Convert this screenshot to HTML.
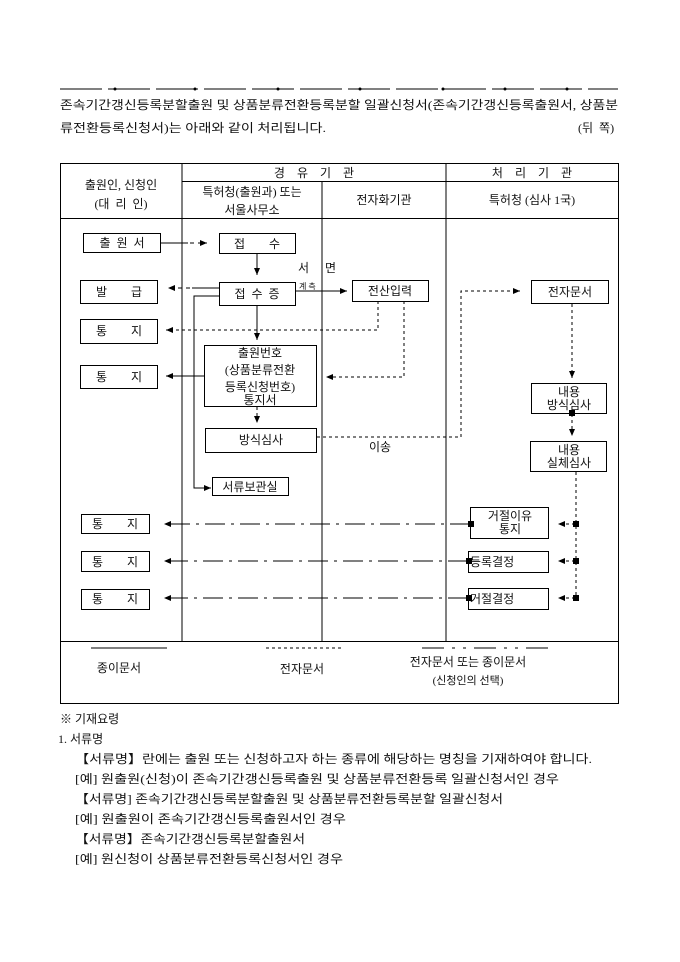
<!DOCTYPE html>
<html><head><meta charset="utf-8"><style>
html,body{margin:0;padding:0;background:#fff;}
svg{display:block;}
text{font-family:"Liberation Serif","Noto Sans CJK KR",sans-serif;font-size:12px;fill:#111;white-space:pre;}
.s{font-size:11px;}
</style></head><body>
<svg width="680" height="962" viewBox="0 0 680 962" xmlns="http://www.w3.org/2000/svg" xml:space="preserve">
<defs>
<marker id="a" markerWidth="8" markerHeight="8" refX="7" refY="4" orient="auto" markerUnits="userSpaceOnUse"><path d="M0,1 L7,4 L0,7 z" fill="#000"/></marker>
</defs>
<line x1="60" y1="89" x2="618" y2="89" stroke="#000" stroke-width="1" stroke-dasharray="42,6"/>
<g fill="#000"><circle cx="115" cy="89" r="1.5"/><circle cx="195" cy="89" r="1.5"/><circle cx="278" cy="89" r="1.5"/><circle cx="360" cy="89" r="1.5"/><circle cx="443" cy="89" r="1.5"/><circle cx="505" cy="89" r="1.5"/><circle cx="567" cy="89" r="1.5"/></g>
<text x="60" y="109" textLength="558" lengthAdjust="spacingAndGlyphs">존속기간갱신등록분할출원 및 상품분류전환등록분할 일괄신청서(존속기간갱신등록출원서, 상품분</text>
<text x="60" y="132" textLength="266" lengthAdjust="spacingAndGlyphs">류전환등록신청서)는 아래와 같이 처리됩니다.</text>
<text x="578" y="132">(뒤  쪽)</text>

<g stroke="#000" fill="none" stroke-width="1">
<rect x="60.5" y="163.5" width="558" height="540"/>
<line x1="182" y1="163" x2="182" y2="641"/>
<line x1="322" y1="181" x2="322" y2="641"/>
<line x1="446" y1="163" x2="446" y2="641"/>
<line x1="182" y1="181.5" x2="618" y2="181.5"/>
<line x1="60" y1="218.5" x2="618" y2="218.5"/>
<line x1="60" y1="641.5" x2="618" y2="641.5"/>
</g>
<text x="121" y="189" text-anchor="middle">출원인, 신청인</text>
<text x="121" y="208" text-anchor="middle">(대  리  인)</text>
<text x="314" y="177" text-anchor="middle">경    유    기    관</text>
<text x="532" y="177" text-anchor="middle">처    리    기    관</text>
<text x="252" y="196" text-anchor="middle">특허청(출원과) 또는</text>
<text x="252" y="214" text-anchor="middle">서울사무소</text>
<text x="384" y="204" text-anchor="middle">전자화기관</text>
<text x="532" y="204" text-anchor="middle">특허청 (심사 1국)</text>

<g stroke="#000" fill="#fff" stroke-width="1">
<rect x="83.5" y="233.5" width="77" height="19"/>
<rect x="219.5" y="233.5" width="76" height="20"/>
<rect x="80.5" y="280.5" width="77" height="23"/>
<rect x="219.5" y="282.5" width="76" height="23"/>
<rect x="352.5" y="280.5" width="76" height="21"/>
<rect x="531.5" y="280.5" width="77" height="23"/>
<rect x="80.5" y="319.5" width="77" height="24"/>
<rect x="204.5" y="345.5" width="112" height="61"/>
<rect x="80.5" y="365.5" width="77" height="23"/>
<rect x="205.5" y="428.5" width="111" height="24"/>
<rect x="531.5" y="383.5" width="75" height="30"/>
<rect x="530.5" y="441.5" width="76" height="30"/>
<rect x="212.5" y="477.5" width="76" height="18"/>
<rect x="81.5" y="514.5" width="68" height="19"/>
<rect x="81.5" y="551.5" width="68" height="20"/>
<rect x="81.5" y="589.5" width="68" height="20"/>
<rect x="470.5" y="507.5" width="78" height="31"/>
<rect x="468.5" y="551.5" width="80" height="21"/>
<rect x="468.5" y="588.5" width="80" height="21"/>
</g>
<text x="122" y="247" text-anchor="middle">출  원  서</text>
<text x="257" y="248" text-anchor="middle">접        수</text>
<text x="119" y="296" text-anchor="middle">발        급</text>
<text x="257" y="298" text-anchor="middle">접  수  증</text>
<text x="390" y="295" text-anchor="middle">전산입력</text>
<text x="570" y="296" text-anchor="middle">전자문서</text>
<text x="119" y="335" text-anchor="middle">통        지</text>
<text x="260" y="357" text-anchor="middle">출원번호</text>
<text x="260" y="374" text-anchor="middle">(상품분류전환</text>
<text x="260" y="391" text-anchor="middle">등록신청번호)</text>
<text x="260" y="404" text-anchor="middle">통지서</text>
<text x="119" y="381" text-anchor="middle">통        지</text>
<text x="261" y="444" text-anchor="middle">방식심사</text>
<text x="569" y="396" text-anchor="middle">내용</text>
<text x="569" y="409" text-anchor="middle">방식심사</text>
<text x="569" y="454" text-anchor="middle">내용</text>
<text x="569" y="467" text-anchor="middle">실체심사</text>
<text x="250" y="491" text-anchor="middle">서류보관실</text>
<text x="115" y="528" text-anchor="middle">통        지</text>
<text x="115" y="566" text-anchor="middle">통        지</text>
<text x="115" y="603" text-anchor="middle">통        지</text>
<text x="510" y="520" text-anchor="middle">거절이유</text>
<text x="510" y="533" text-anchor="middle">통지</text>
<text x="470" y="566">등록결정</text>
<text x="470" y="603">거절결정</text>
<text x="298" y="272">서</text><text x="325" y="272">면</text>
<text x="299" y="289" style="font-size:8px">계 측</text>
<text x="369" y="451">이송</text>

<g stroke="#000" fill="none" stroke-width="1">
<line x1="161" y1="243" x2="188" y2="243"/>
<line x1="190" y1="243" x2="207" y2="243" stroke-dasharray="4,4" marker-end="url(#a)"/>
<line x1="257" y1="254" x2="257" y2="275" marker-end="url(#a)"/>
<line x1="219" y1="288" x2="192" y2="288"/>
<line x1="190" y1="288" x2="168" y2="288" stroke-dasharray="4,4" marker-end="url(#a)"/>
<polyline points="219,296 194,296 194,488 211,488" marker-end="url(#a)"/>
<line x1="296" y1="291" x2="347" y2="291" marker-end="url(#a)"/>
<polyline points="378,301 378,330 166,330" stroke-dasharray="3,3" marker-end="url(#a)"/>
<polyline points="257,306 257,327 257,340" marker-end="url(#a)"/>
<polyline points="404,301 404,377 326,377" stroke-dasharray="3,3" marker-end="url(#a)"/>
<line x1="204" y1="376" x2="166" y2="376" marker-end="url(#a)"/>
<line x1="257" y1="407" x2="257" y2="423" stroke-dasharray="3,3" marker-end="url(#a)"/>
<polyline points="317,437 461,437 461,291 520,291" stroke-dasharray="3,3" marker-end="url(#a)"/>
<line x1="572" y1="304" x2="572" y2="378" stroke-dasharray="3,3" marker-end="url(#a)"/>
<line x1="572" y1="414" x2="572" y2="436" stroke-dasharray="3,3" marker-end="url(#a)"/>
<line x1="576" y1="472" x2="576" y2="598" stroke-dasharray="3,3"/>
<line x1="470" y1="524" x2="164" y2="524" stroke-dasharray="20,6,3,6" marker-end="url(#a)"/>
<line x1="468" y1="561" x2="164" y2="561" stroke-dasharray="20,6,3,6" marker-end="url(#a)"/>
<line x1="468" y1="598" x2="164" y2="598" stroke-dasharray="20,6,3,6" marker-end="url(#a)"/>
<line x1="575" y1="524" x2="558" y2="524" stroke-dasharray="3,3" marker-end="url(#a)"/>
<line x1="575" y1="561" x2="558" y2="561" stroke-dasharray="3,3" marker-end="url(#a)"/>
<line x1="575" y1="598" x2="558" y2="598" stroke-dasharray="3,3" marker-end="url(#a)"/>
</g>
<g fill="#000">
<rect x="569" y="410" width="6" height="6"/>
<rect x="468" y="521" width="6" height="6"/>
<rect x="466" y="558" width="6" height="6"/>
<rect x="466" y="595" width="6" height="6"/>
<rect x="573" y="521" width="6" height="6"/>
<rect x="573" y="558" width="6" height="6"/>
<rect x="573" y="595" width="6" height="6"/>
</g>

<line x1="91" y1="648" x2="167" y2="648" stroke="#000"/>
<line x1="266" y1="648" x2="343" y2="648" stroke="#000" stroke-dasharray="3,3"/>
<line x1="422" y1="648" x2="556" y2="648" stroke="#000" stroke-dasharray="22,8,3,8,3,8"/>
<text x="119" y="672" text-anchor="middle">종이문서</text>
<text x="302" y="673" text-anchor="middle">전자문서</text>
<text x="468" y="666" text-anchor="middle">전자문서 또는 종이문서</text>
<text x="468" y="684" text-anchor="middle" class="s">(신청인의 선택)</text>

<text x="60" y="723">※ 기재요령</text>
<text x="58" y="743">1. 서류명</text>
<text x="75" y="763" textLength="517" lengthAdjust="spacingAndGlyphs">【서류명】란에는 출원 또는 신청하고자 하는 종류에 해당하는 명칭을 기재하여야 합니다.</text>
<text x="75" y="783" textLength="484" lengthAdjust="spacingAndGlyphs">[예] 원출원(신청)이 존속기간갱신등록출원 및 상품분류전환등록 일괄신청서인 경우</text>
<text x="75" y="803" textLength="428" lengthAdjust="spacingAndGlyphs">【서류명] 존속기간갱신등록분할출원 및 상품분류전환등록분할 일괄신청서</text>
<text x="75" y="823" textLength="271" lengthAdjust="spacingAndGlyphs">[예] 원출원이 존속기간갱신등록출원서인 경우</text>
<text x="75" y="843" textLength="230" lengthAdjust="spacingAndGlyphs">【서류명】존속기간갱신등록분할출원서</text>
<text x="75" y="863" textLength="268" lengthAdjust="spacingAndGlyphs">[예] 원신청이 상품분류전환등록신청서인 경우</text>
</svg>
</body></html>
